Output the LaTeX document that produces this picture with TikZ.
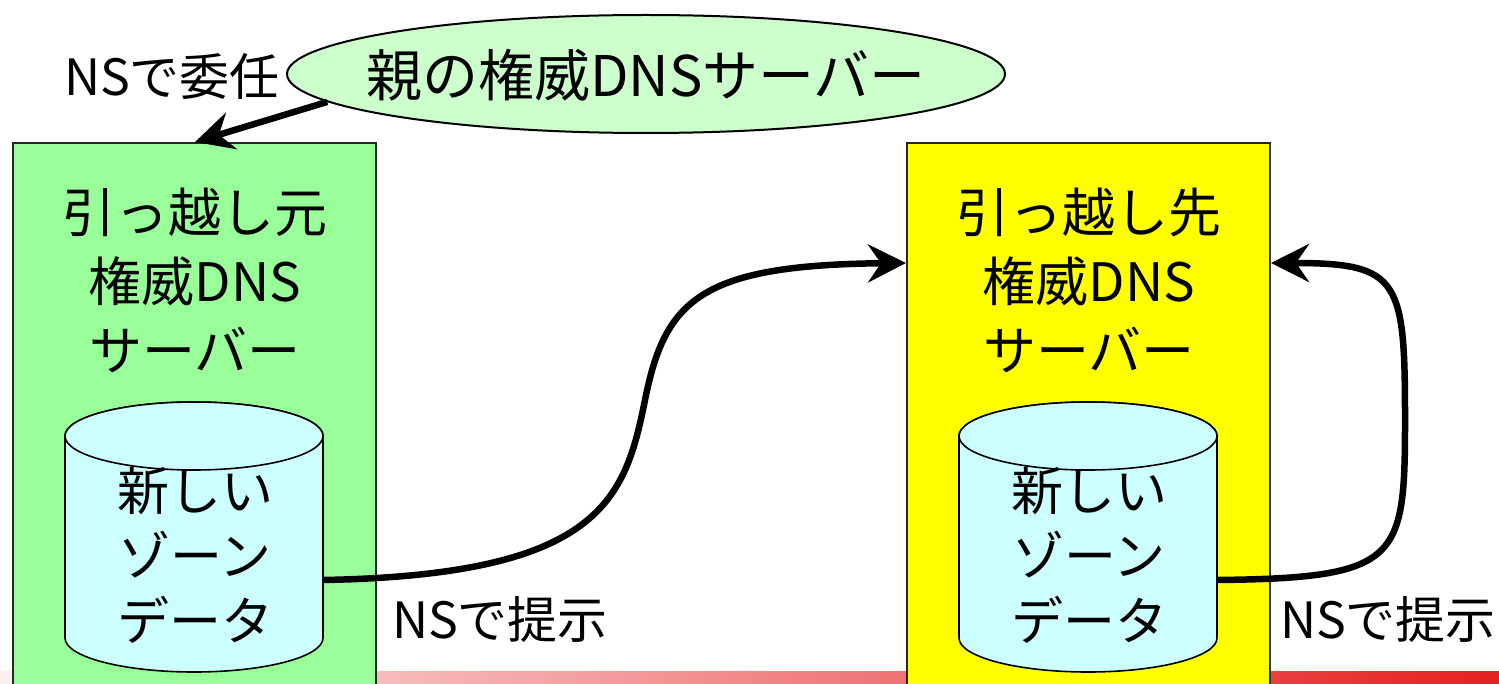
\documentclass[tikz,border=0pt]{standalone}
\usepackage{fontspec}
\setmainfont{Noto Sans CJK JP}
\usetikzlibrary{shapes.geometric,arrows.meta,calc}
\definecolor{boxgreen}{HTML}{99FF99}
\definecolor{boxyellow}{HTML}{FFFF00}
\definecolor{dbcyan}{HTML}{CCFFFF}
\definecolor{parentgreen}{HTML}{CCFFCC}
\definecolor{barleft}{RGB}{253,240,240}
\definecolor{barright}{RGB}{230,32,32}
\tikzset{
  serverbox/.style={draw=black!85, line width=1pt, minimum width=181.5pt, minimum height=288.5pt, inner sep=0pt},
  titletext/.style={align=center, font=\fontsize{26.5}{34.5}\selectfont, inner sep=0pt},
  dbtext/.style={align=center, font=\fontsize{26}{32.5}\selectfont, inner sep=0pt},
  dbshape/.style={draw=black, line width=0.8pt, fill=dbcyan},
  dbarea/.style={minimum width=129pt, minimum height=135pt, inner sep=0pt},
  labeltext/.style={font=\fontsize{25}{30}\selectfont, inner sep=0pt},
  flow/.style={line width=3.25pt, -{Stealth[length=19pt,width=19pt,inset=6.5pt]}},
}
\begin{document}
\begin{tikzpicture}[x=0.5pt,y=-0.5pt]
\useasboundingbox (0,0) rectangle (1499,684);
\clip (0,0) rectangle (1499,684);
% bottom gradient bar
\shade[left color=barleft,right color=barright] (0,671) rectangle (1499,690);
% server boxes
\node[serverbox, fill=boxgreen] (src) at (194.5,431.5) {};
\node[serverbox, fill=boxyellow] (dst) at (1088.5,431.5) {};
\node[titletext] (srctitle) at (195,280) {引っ越し元\\権威DNS\\サーバー};
\node[titletext] (dsttitle) at (1089,280) {引っ越し先\\権威DNS\\サーバー};
% databases
\node[dbarea] (srcdb) at (194,537) {};
\node[dbarea] (dstdb) at (1088,537) {};
\path[dbshape] (65,436) -- (65,638) arc (180:0:129 and 34) -- (323,436) arc (0:-180:129 and 34) -- cycle;
\draw[dbshape] (194,436) ellipse (129 and 34);
\path[dbshape] (959,436) -- (959,638) arc (180:0:129 and 34) -- (1217,436) arc (0:-180:129 and 34) -- cycle;
\draw[dbshape] (1088,436) ellipse (129 and 34);
\node[dbtext] (srcdbtext) at (195,555) {新しい\\ゾーン\\データ};
\node[dbtext] (dstdbtext) at (1089,555) {新しい\\ゾーン\\データ};
% parent
\node[ellipse, draw=black, line width=1pt, fill=parentgreen, minimum width=359pt, minimum height=59pt, inner sep=0pt] (parent) at (646,74) {};
\draw[flow] (parent.185) -- ([xshift=91.5pt]src.north west);
\node[font=\fontsize{28}{34}\selectfont, inner sep=0pt] (parenttext) at (646,75) {親の権威DNSサーバー};
\node[labeltext] (lbldeleg) at (172,77) {NSで委任};
% connectors
\draw[flow] ([yshift=-21.5pt]srcdb.east) .. controls (600,575) and (625,500) .. (645,400) .. controls (665,300) and (700,265) .. ([yshift=84.25pt]dst.west);
\draw[flow] ([yshift=-21.5pt]dstdb.east) .. controls (1400,578) and (1405,560) .. (1405,420) .. controls (1405,280) and (1400,263) .. ([yshift=84.25pt]dst.east);
\node[labeltext] (lblleft) at (500,620) {NSで提示};
\node[labeltext] (lblright) at (1388,620) {NSで提示};
\end{tikzpicture}
\end{document}
